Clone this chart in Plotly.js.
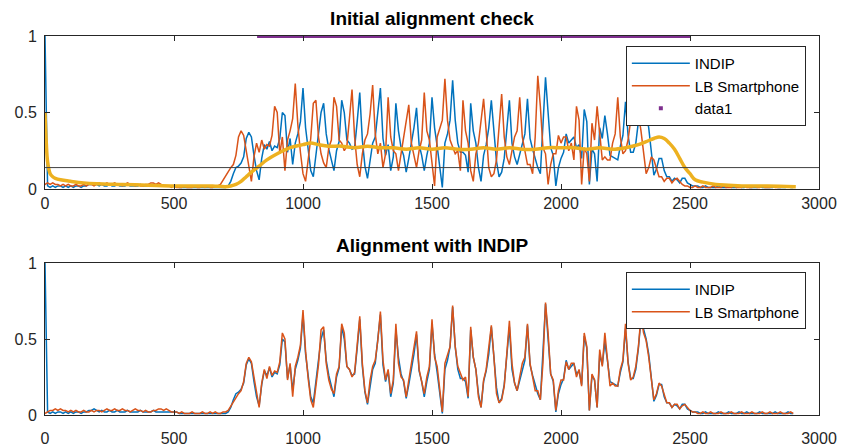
<!DOCTYPE html>
<html>
<head>
<meta charset="utf-8">
<script src="https://cdn.plot.ly/plotly-3.0.1.min.js"></script>
<style>
html,body{margin:0;padding:0;background:#fff;}
#chart{width:842px;height:447px;}
</style>
</head>
<body>
<div id="chart"></div>
<script>
// ---- data (sample spacing 10, starting at 0) ----
const sampleStep = 10;
const indip = [
1.00,0.02,0.01,0.02,0.01,0.02,0.02,0.01,0.02,0.01,
0.02,0.01,0.02,0.02,0.01,0.02,0.02,0.03,0.03,0.04,
0.03,0.02,0.03,0.02,0.02,0.03,0.02,0.02,0.03,0.02,
0.02,0.02,0.03,0.02,0.02,0.02,0.02,0.03,0.02,0.02,
0.02,0.02,0.03,0.02,0.02,0.02,0.02,0.02,0.02,0.02,
0.02,0.02,0.01,0.01,0.01,0.01,0.01,0.01,0.01,0.01,
0.01,0.01,0.01,0.01,0.01,0.01,0.01,0.01,0.01,0.01,
0.01,0.02,0.05,0.10,0.14,0.15,0.17,0.21,0.33,0.37,
0.34,0.22,0.12,0.06,0.20,0.29,0.26,0.31,0.25,0.28,
0.27,0.33,0.50,0.48,0.24,0.33,0.16,0.30,0.36,0.44,
0.66,0.40,0.26,0.12,0.08,0.22,0.32,0.50,0.56,0.36,
0.26,0.18,0.12,0.25,0.31,0.58,0.50,0.32,0.30,0.26,
0.27,0.44,0.63,0.32,0.15,0.07,0.20,0.30,0.34,0.50,
0.66,0.33,0.22,0.29,0.12,0.21,0.56,0.38,0.27,0.22,
0.11,0.20,0.30,0.40,0.53,0.29,0.22,0.12,0.22,0.30,
0.60,0.40,0.28,0.15,0.01,0.30,0.36,0.45,0.71,0.45,
0.30,0.24,0.24,0.22,0.11,0.56,0.38,0.30,0.14,0.05,
0.22,0.29,0.40,0.58,0.36,0.18,0.08,0.11,0.20,0.40,
0.58,0.30,0.21,0.16,0.23,0.30,0.36,0.59,0.33,0.26,
0.20,0.14,0.10,0.40,0.73,0.50,0.27,0.22,0.02,0.14,
0.20,0.24,0.36,0.30,0.32,0.34,0.27,0.29,0.20,0.52,
0.44,0.03,0.26,0.23,0.05,0.40,0.33,0.48,0.36,0.22,
0.21,0.20,0.19,0.28,0.35,0.57,0.35,0.24,0.24,0.30,
0.44,0.63,0.56,0.50,0.40,0.26,0.09,0.13,0.20,0.20,
0.12,0.08,0.08,0.05,0.07,0.06,0.04,0.07,0.07,0.04,
0.03,0.02,0.02,0.02,0.01,0.01,0.02,0.01,0.01,0.01,
0.01,0.02,0.01,0.01,0.01,0.02,0.01,0.01,0.01,0.02,
0.01,0.01,0.02,0.01,0.01,0.01,0.01,0.02,0.01,0.01,
0.01,0.01,0.01,0.02,0.01,0.01,0.01,0.01,0.02,0.01,
0.01];
const smartphone = [
0.01,0.02,0.03,0.03,0.04,0.03,0.04,0.03,0.03,0.02,
0.03,0.02,0.03,0.02,0.02,0.03,0.02,0.02,0.03,0.02,
0.03,0.03,0.02,0.03,0.04,0.03,0.03,0.04,0.03,0.03,
0.04,0.03,0.03,0.02,0.03,0.04,0.03,0.03,0.02,0.03,
0.02,0.02,0.03,0.03,0.04,0.04,0.03,0.04,0.03,0.02,
0.02,0.02,0.01,0.02,0.01,0.01,0.01,0.02,0.01,0.01,
0.01,0.02,0.01,0.01,0.02,0.01,0.02,0.01,0.01,0.02,
0.02,0.03,0.06,0.09,0.12,0.14,0.16,0.22,0.34,0.38,
0.35,0.24,0.14,0.05,0.21,0.30,0.24,0.32,0.26,0.29,
0.28,0.35,0.54,0.50,0.23,0.34,0.12,0.32,0.38,0.46,
0.69,0.42,0.24,0.10,0.05,0.21,0.33,0.56,0.58,0.34,
0.23,0.17,0.14,0.27,0.32,0.60,0.54,0.32,0.30,0.25,
0.28,0.46,0.65,0.34,0.16,0.08,0.23,0.32,0.36,0.49,
0.68,0.36,0.23,0.30,0.14,0.23,0.60,0.34,0.25,0.23,
0.12,0.23,0.34,0.42,0.55,0.30,0.23,0.14,0.25,0.32,
0.63,0.38,0.32,0.16,0.02,0.34,0.40,0.45,0.72,0.45,
0.32,0.27,0.23,0.25,0.12,0.58,0.38,0.30,0.12,0.05,
0.23,0.30,0.45,0.59,0.38,0.14,0.08,0.10,0.19,0.38,
0.62,0.34,0.21,0.16,0.25,0.34,0.38,0.60,0.34,0.25,
0.16,0.16,0.10,0.34,0.74,0.54,0.27,0.23,0.03,0.16,
0.23,0.23,0.35,0.30,0.34,0.34,0.25,0.30,0.19,0.54,
0.45,0.03,0.27,0.23,0.05,0.43,0.32,0.54,0.34,0.19,
0.21,0.19,0.19,0.30,0.36,0.60,0.34,0.23,0.25,0.32,
0.45,0.65,0.54,0.49,0.38,0.23,0.10,0.14,0.21,0.19,
0.13,0.08,0.08,0.05,0.07,0.07,0.04,0.06,0.07,0.05,
0.03,0.02,0.02,0.01,0.01,0.02,0.01,0.01,0.02,0.01,
0.01,0.01,0.02,0.01,0.01,0.01,0.02,0.01,0.01,0.01,
0.02,0.01,0.01,0.01,0.02,0.01,0.01,0.01,0.02,0.01,
0.01,0.02,0.01,0.01,0.01,0.02,0.01,0.01,0.01,0.02,
0.01];
// smartphone signal start before alignment (lag, sample units)
const initialStart = -30;
// smoothed envelope (yellow)
const envX = [0,5,10,20,30,40,60,100,150,200,300,400,500,600,650,700,720,740,760,780,800,830,860,900,950,1000,1030,1060,1100,1150,1200,1250,1300,1350,1400,1450,1500,1550,1600,1650,1700,1750,1800,1850,1900,1950,2000,2050,2100,2150,2200,2250,2300,2330,2360,2380,2400,2420,2440,2460,2480,2500,2520,2550,2600,2650,2700,2800,2910];
const envY = [0.50,0.30,0.18,0.10,0.08,0.07,0.06,0.05,0.04,0.035,0.03,0.025,0.02,0.02,0.02,0.015,0.02,0.03,0.05,0.08,0.11,0.15,0.19,0.23,0.27,0.29,0.30,0.29,0.28,0.28,0.27,0.28,0.27,0.27,0.26,0.27,0.26,0.27,0.26,0.26,0.27,0.26,0.27,0.26,0.26,0.27,0.27,0.27,0.26,0.27,0.26,0.27,0.29,0.31,0.33,0.34,0.33,0.30,0.26,0.20,0.14,0.10,0.06,0.045,0.03,0.025,0.02,0.02,0.015];
const threshold = 0.14;
const data1X = [822, 2500];
const data1Y = [1, 1];
const xTicks = [0,500,1000,1500,2000,2500,3000];
const yTicks = [0,0.5,1];
const yTickText = ['0','0.5','1'];

// ---- styling ----
const BLUE='#0072BD', ORANGE='#D95319', YELLOW='#EDB120', PURPLE='#7E2F8E';
const FONT='Liberation Sans, Arial, Helvetica, sans-serif';
const AX='#262626';

const traces = [
  {x0:0, dx:sampleStep, y:indip, type:'scatter', mode:'lines', name:'INDIP',
   line:{color:BLUE,width:1.5}, xaxis:'x', yaxis:'y', legend:'legend'},
  {x0:initialStart, dx:sampleStep, y:smartphone, type:'scatter', mode:'lines', name:'LB Smartphone',
   line:{color:ORANGE,width:1.5}, xaxis:'x', yaxis:'y', legend:'legend'},
  {x:envX, y:envY, type:'scatter', mode:'lines', showlegend:false, line:{color:YELLOW,width:3.5,shape:'spline'},
   xaxis:'x', yaxis:'y'},
  {x:data1X, y:data1Y, type:'scatter', mode:'lines', showlegend:false, line:{color:PURPLE,width:4},
   xaxis:'x', yaxis:'y'},
  {x:[null], y:[null], type:'scatter', mode:'markers', name:'data1',
   marker:{color:PURPLE,size:4,symbol:'square'}, xaxis:'x', yaxis:'y', legend:'legend'},
  {x0:0, dx:sampleStep, y:indip, type:'scatter', mode:'lines', name:'INDIP',
   line:{color:BLUE,width:1.5}, xaxis:'x2', yaxis:'y2', legend:'legend2'},
  {x0:0, dx:sampleStep, y:smartphone, type:'scatter', mode:'lines', name:'LB Smartphone',
   line:{color:ORANGE,width:1.5}, xaxis:'x2', yaxis:'y2', legend:'legend2'}
];

function xa(anchor, standoff){
  return {anchor:anchor, range:[0,3000], tickvals:xTicks, ticktext:xTicks.map(String),
    showline:true, mirror:'ticks', linecolor:AX, linewidth:1, ticks:'inside', ticklen:5,
    tickcolor:AX, showgrid:false, zeroline:false, tickfont:{family:FONT,size:16,color:AX},
    ticklabelstandoff:standoff};
}
function ya(anchor, dom){
  return {anchor:anchor, domain:dom, range:[0,1], tickvals:yTicks, ticktext:yTickText,
    showline:true, mirror:'ticks', linecolor:AX, linewidth:1, ticks:'inside', ticklen:5,
    tickcolor:AX, showgrid:false, zeroline:false, tickfont:{family:FONT,size:16,color:AX},
    ticklabelstandoff:4};
}
const legendStyle = {bgcolor:'#ffffff', bordercolor:AX, borderwidth:1,
  font:{family:FONT,size:15,color:'#000'}, xanchor:'right', yanchor:'top',
  tracegroupgap:0, itemwidth:58};

const layout = {
  width:842, height:447,
  margin:{l:45, r:23, t:36, b:32},
  paper_bgcolor:'#fff', plot_bgcolor:'#fff',
  title:{text:'<b>Initial alignment check</b>', font:{family:FONT,size:19,color:'#000'},
    x:0.5, xref:'paper', xanchor:'center', y:1-18/447, yref:'container', yanchor:'middle'},
  xaxis:xa('y',0), yaxis:ya('x',[0.5963,1]),
  xaxis2:xa('y2',9), yaxis2:ya('x2',[0,0.401]),
  legend:Object.assign({x:0.983, y:0.9736}, legendStyle),
  legend2:Object.assign({x:0.983, y:0.3773}, legendStyle),
  annotations:[{text:'<b>Alignment with INDIP</b>', xref:'paper', yref:'paper', x:0.5, y:0.4485,
    xanchor:'center', yanchor:'middle', showarrow:false, font:{family:FONT,size:19,color:'#000'}}],
  shapes:[{type:'line', xref:'x', yref:'y', x0:0, x1:3000, y0:threshold, y1:threshold,
    line:{color:'#404040', width:1}, layer:'above'}],
  showlegend:true
};

Plotly.newPlot('chart', traces, layout, {staticPlot:true, displayModeBar:false});
</script>
</body>
</html>
